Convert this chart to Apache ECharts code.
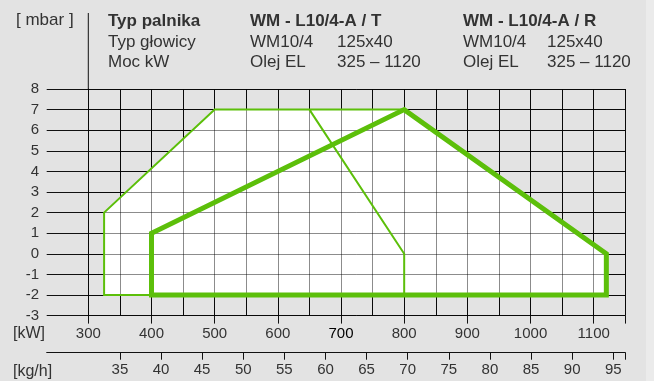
<!DOCTYPE html>
<html>
<head>
<meta charset="utf-8" />
<title>WM - L10/4-A</title>
<script src="https://cdn.jsdelivr.net/npm/echarts@6/dist/echarts.min.js"></script>
<style type="text/css">
body, html {
	margin: 0;
	padding: 0;
	background-color: #e3e3e3;
}
#chart {
	width: 654px;
	height: 381px;
}
</style>
</head>
<body>
	<div id="chart"></div>
	<script>
		// osie
		let kwTicks = [300, 400, 500, 600, 700, 800, 900, 1000, 1100];
		let kgTicks = [35, 40, 45, 50, 55, 60, 65, 70, 75, 80, 85, 90, 95];
		let kwRange = [300, 1150];
		let kgRange = [26.1, 96.46];
		let mbarRange = [-3, 8];

		// pola pracy [kW, mbar]
		let whiteArea = [[325, -2], [325, 2], [500, 7], [800, 7], [1120, 0], [1120, -2]];
		let lineT = [[800, 7], [500, 7], [325, 2], [325, -2], [800, -2], [800, 0], [650, 7]];
		let lineR = [[400, -2], [400, 1], [800, 7], [1120, 0], [1120, -2], [400, -2]];

		// naglowek
		let headCol1 = ['Typ palnika', 'Typ głowicy', 'Moc kW'];
		let headCol2 = ['WM - L10/4-A / T', 'WM10/4', 'Olej EL'];
		let headCol2b = ['', '125x40', '325 – 1120'];
		let headCol3 = ['WM - L10/4-A / R', 'WM10/4', 'Olej EL'];
		let headCol3b = ['', '125x40', '325 – 1120'];

		let font = 'Liberation Sans';
		let green = '#5cbf0a';
		let gridPos = {left: 88.3, right: 28.7, top: 89, bottom: 65.4};

		let chart = echarts.init(document.getElementById('chart'));
		chart.setOption({
			backgroundColor: '#e3e3e3',
			animation: false,
			textStyle: {fontFamily: font},
			grid: [
				Object.assign({}, gridPos),
				Object.assign({}, gridPos),
				{left: 46.7, right: 28.7, top: 340, bottom: 28.3}
			],
			xAxis: [
				{
					// linie siatki
					type: 'value', gridIndex: 0, min: kwRange[0], max: kwRange[1], interval: 50,
					axisLine: {show: false}, axisTick: {show: false}, axisLabel: {show: false},
					splitLine: {show: true, lineStyle: {color: '#111', width: 1}}
				},
				{
					// kW podzialka
					type: 'value', gridIndex: 0, position: 'bottom', min: kwRange[0], max: kwRange[1],
					axisLine: {show: false},
					axisTick: {show: true, inside: false, length: 8, lineStyle: {color: '#111'},
						customValues: kwTicks.concat([kwRange[1]])},
					axisLabel: {
						show: true, margin: 11, fontSize: 15, color: '#333', fontFamily: font,
						customValues: kwTicks,
						formatter: function (v) { return v === 700 ? '{b|700}' : String(v); },
						rich: {b: {fontSize: 15, color: '#000', fontFamily: font}}
					},
					splitLine: {show: false}
				},
				{
					// siatka nad polem bialym
					type: 'value', gridIndex: 1, min: kwRange[0], max: kwRange[1], interval: 50, z: 1.5,
					axisLine: {show: false}, axisTick: {show: false}, axisLabel: {show: false},
					splitLine: {show: true, lineStyle: {color: 'rgba(0,0,0,0.45)', width: 1}}
				},
				{
					// kg/h
					type: 'value', gridIndex: 2, position: 'bottom', min: kgRange[0], max: kgRange[1],
					axisLine: {show: true, lineStyle: {color: '#111', width: 1}},
					axisTick: {show: true, inside: false, length: 7, lineStyle: {color: '#111'},
						customValues: kgTicks.concat([kgRange[1]])},
					axisLabel: {show: true, margin: 10, fontSize: 15, color: '#333', fontFamily: font,
						customValues: kgTicks},
					splitLine: {show: false}
				}
			],
			yAxis: [
				{
					type: 'value', gridIndex: 0, min: mbarRange[0], max: mbarRange[1], interval: 1,
					axisLine: {show: true, lineStyle: {color: '#111', width: 1}},
					axisTick: {show: true, inside: false, length: 41.6, lineStyle: {color: '#111'}},
					axisLabel: {show: true, margin: 49.3, fontSize: 15, color: '#333', fontFamily: font},
					splitLine: {show: true, lineStyle: {color: '#111', width: 1}}
				},
				{
					type: 'value', gridIndex: 1, min: mbarRange[0], max: mbarRange[1], interval: 1, z: 1.5,
					axisLine: {show: false}, axisTick: {show: false}, axisLabel: {show: false},
					splitLine: {show: true, lineStyle: {color: 'rgba(0,0,0,0.45)', width: 1}}
				},
				{
					type: 'value', gridIndex: 2, show: false, min: 0, max: 1
				}
			],
			series: [
				{
					type: 'custom', xAxisIndex: 0, yAxisIndex: 0, z: 1,
					data: [0],
					renderItem: function (params, api) {
						return {
							type: 'polygon',
							shape: {points: whiteArea.map(function (p) { return api.coord(p); })},
							style: {fill: '#ffffff'}
						};
					}
				},
				{
					type: 'line', xAxisIndex: 0, yAxisIndex: 0, z: 3,
					data: lineT, showSymbol: false, silent: true,
					lineStyle: {color: green, width: 2, join: 'miter'}
				},
				{
					type: 'line', xAxisIndex: 0, yAxisIndex: 0, z: 4,
					data: lineR, showSymbol: false, silent: true,
					lineStyle: {color: green, width: 5, join: 'miter', cap: 'square'}
				}
			]
		});

		// naglowek i opisy osi
		let axisX = chart.convertToPixel({xAxisIndex: 0}, kwRange[0]);
		let axisTop = chart.convertToPixel({yAxisIndex: 0}, mbarRange[1]);
		let rowY = [21.5, 42, 62];
		let texts = [];
		function addText(str, x, y, bold, size) {
			texts.push({
				type: 'text', x: x, y: y,
				style: {text: str, fill: '#333', font: (bold ? 'bold ' : '') + size + 'px "' + font + '"',
					textVerticalAlign: 'middle', verticalAlign: 'middle'}
			});
		}
		addText('[ mbar ]', 16, 20.5, false, 17);
		headCol1.forEach(function (t, i) { addText(t, 108, rowY[i], i === 0, 17); });
		headCol2.forEach(function (t, i) { addText(t, 250, rowY[i], i === 0, 17); });
		headCol2b.forEach(function (t, i) { if (t) addText(t, 337, rowY[i], false, 17); });
		headCol3.forEach(function (t, i) { addText(t, 463, rowY[i], i === 0, 17); });
		headCol3b.forEach(function (t, i) { if (t) addText(t, 547, rowY[i], false, 17); });
		addText('[kW]', 13, 334, false, 16);
		addText('[kg/h]', 13, 372, false, 16);

		chart.setOption({
			graphic: [
				{type: 'rect', shape: {x: 646, y: 0, width: 8, height: 381}, style: {fill: '#ebebeb'}, z: 0},
				{type: 'line', shape: {x1: axisX, y1: 13, x2: axisX, y2: axisTop},
					style: {stroke: '#111', lineWidth: 1}, z: 10}
			].concat(texts)
		});
	</script>
</body>
</html>
